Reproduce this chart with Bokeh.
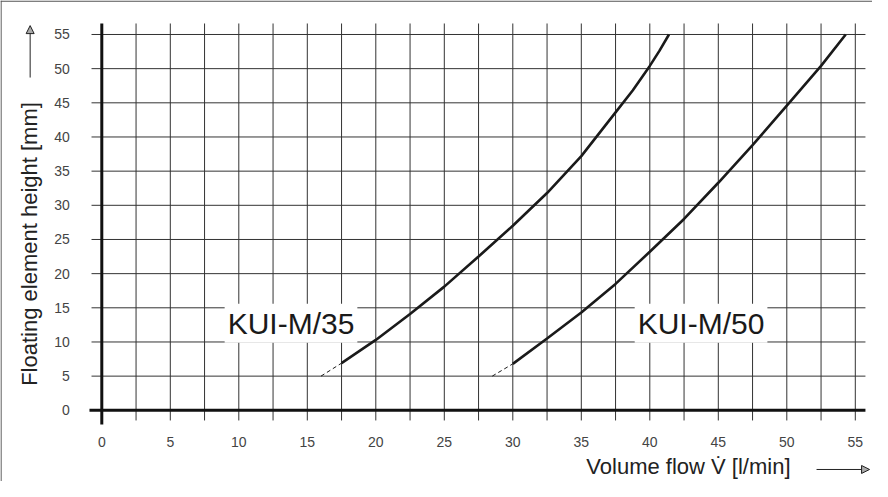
import math
from bokeh.plotting import figure
from bokeh.models import Range1d, FixedTicker, Label, Arrow, NormalHead
from bokeh.embed import file_html
from bokeh.resources import INLINE

# ---- data ----
x_ticks = [0, 5, 10, 15, 20, 25, 30, 35, 40, 45, 50, 55]
y_ticks = [0, 5, 10, 15, 20, 25, 30, 35, 40, 45, 50, 55]
x_grid = [2.5, 5, 7.5, 10, 12.5, 15, 17.5, 20, 22.5, 25, 27.5, 30, 32.5, 35,
          37.5, 40, 42.5, 45, 47.5, 50, 52.5, 55]
y_grid = [5, 10, 15, 20, 25, 30, 35, 40, 45, 50, 55]

kui35_x = [17.5, 20, 22.5, 25, 27.5, 30, 32.5, 35, 37.5, 38.75, 40, 40.7, 41.4]
kui35_y = [6.9, 10.3, 14.1, 18.1, 22.5, 27.0, 31.8, 37.2, 43.6, 46.8, 50.4, 52.6, 55.0]
kui35_dash_x = [16.0, 17.5]
kui35_dash_y = [5.0, 6.9]

kui50_x = [30, 32.5, 35, 37.5, 40, 42.5, 45, 47.5, 50, 52.5, 54.3]
kui50_y = [6.8, 10.5, 14.3, 18.5, 23.2, 28.0, 33.3, 38.8, 44.6, 50.4, 55.0]
kui50_dash_x = [28.5, 30.0]
kui50_dash_y = [5.0, 6.8]

series_names = ["KUI-M/35", "KUI-M/50"]
x_title = "Volume flow V\u0307 [l/min]"
y_title = "Floating element height [mm]"

# extents of the drawing area (data units)
X0, X1 = -7.394, 56.255
Y0, Y1 = -10.42, 59.974
GX0, GX1 = -0.75, 55.74     # horizontal grid extent
GY0, GY1 = -1.49, 56.61     # vertical grid extent

p = figure(width=872, height=481,
           x_range=Range1d(X0, X1), y_range=Range1d(Y0, Y1),
           output_backend="svg", toolbar_location=None,
           min_border_left=0, min_border_right=0,
           min_border_top=0, min_border_bottom=0)
p.outline_line_color = None
p.background_fill_color = "white"
p.border_fill_color = "white"
p.grid.visible = False

# axes: fixed at the zero lines, labels only
p.xaxis.fixed_location = 0
p.yaxis.fixed_location = 0
for ax in (p.xaxis[0], p.yaxis[0]):
    ax.axis_line_color = None
    ax.major_tick_line_color = None
    ax.minor_tick_line_color = None
    ax.major_tick_out = 0
    ax.major_tick_in = 0
    ax.major_label_text_font = "Liberation Sans"
    ax.major_label_text_font_size = "14px"
    ax.major_label_text_color = "#444444"
p.xaxis.ticker = FixedTicker(ticks=x_ticks)
p.yaxis.ticker = FixedTicker(ticks=y_ticks)
p.xaxis.major_label_standoff = 27
p.yaxis.major_label_standoff = 32

# grid lines
p.segment(x0=x_grid, y0=[GY0] * len(x_grid), x1=x_grid, y1=[GY1] * len(x_grid),
          line_color="#333333", line_width=1)
p.segment(x0=[GX0] * len(y_grid), y0=y_grid, x1=[GX1] * len(y_grid), y1=y_grid,
          line_color="#333333", line_width=1)

# thick zero lines
p.segment(x0=[0, -0.9], y0=[-2.08, 0], x1=[0, 55.74], y1=[GY1, 0],
          line_color="#111111", line_width=3)

# frame border (top and left)
p.segment(x0=[X0, X0 + 0.04], y0=[Y1 - 0.08, Y0], x1=[X1, X0 + 0.04], y1=[Y1 - 0.08, Y1],
          line_color="#555555", line_width=1.2)

# curves
p.line(kui35_x, kui35_y, line_color="#1a1a1a", line_width=2.6)
p.line(kui35_dash_x, kui35_dash_y, line_color="#1a1a1a", line_width=1, line_dash="4 3")
p.line(kui50_x, kui50_y, line_color="#1a1a1a", line_width=2.6)
p.line(kui50_dash_x, kui50_dash_y, line_color="#1a1a1a", line_width=1, line_dash="4 3")

# curve labels with white box
for name, lx in zip(series_names, [13.81, 43.74]):
    p.add_layout(Label(x=lx, y=12.75, text=name, text_align="center",
                       text_baseline="middle", text_font="Liberation Sans",
                       text_font_size="30px", text_color="#1a1a1a",
                       background_fill_color="white", padding=3))

# axis titles
p.add_layout(Label(x=50.27, y=-8.2, text=x_title, text_align="right",
                   text_baseline="middle", text_font="Liberation Sans",
                   text_font_size="22px", text_color="#222222"))
p.add_layout(Label(x=-5.28, y=24.34, text=y_title, angle=math.pi / 2,
                   text_align="center", text_baseline="middle",
                   text_font="Liberation Sans", text_font_size="22px",
                   text_color="#222222"))

# arrows
p.add_layout(Arrow(x_start=52.17, y_start=-8.66, x_end=56.04, y_end=-8.66,
                   line_color="#222222", line_width=1,
                   end=NormalHead(size=8, fill_color="#aaaaaa", line_color="#222222", line_width=1)))
p.add_layout(Arrow(x_start=-5.23, y_start=48.7, x_end=-5.23, y_end=56.3,
                   line_color="#222222", line_width=1,
                   end=NormalHead(size=8, fill_color="#aaaaaa", line_color="#222222", line_width=1)))

open("out.html", "w").write(file_html(p, INLINE))
